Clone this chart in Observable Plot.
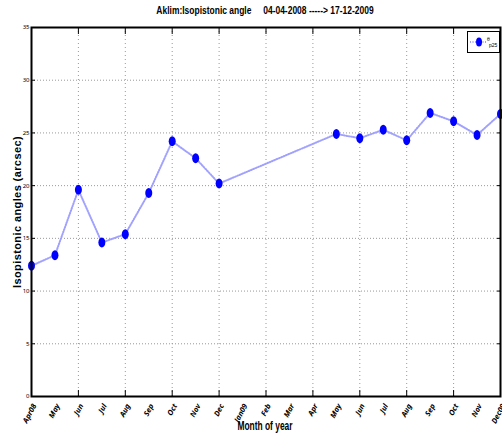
<!DOCTYPE html>
<html>
<head>
<meta charset="utf-8">
<script src="https://cdn.jsdelivr.net/npm/d3@7"></script>
<script src="https://cdn.jsdelivr.net/npm/@observablehq/plot@0.6"></script>
<style>
  html, body { margin: 0; padding: 0; background: #fff; }
  #wrap { position: relative; width: 502px; height: 436px; overflow: hidden; }
  .title { position: absolute; left: 0; width: 530px; top: 4px; text-align: center; transform: scaleX(0.77);
    font-family: "Liberation Sans Narrow", "Liberation Sans", sans-serif; font-weight: bold; font-size: 11px; white-space: pre; }
  .xlab { position: absolute; left: 0; width: 530px; top: 419px; text-align: center; transform: scaleX(0.7);
    font-family: "Liberation Sans Narrow", "Liberation Sans", sans-serif; font-weight: bold; font-size: 12px; }
  .ylab { position: absolute; left: 17px; top: 212px; transform: translate(-50%, -50%) rotate(-90deg);
    font-family: "Liberation Sans", sans-serif; font-weight: bold; font-size: 11px; letter-spacing: 0.4px; white-space: nowrap; }
  .legend { position: absolute; left: 467px; top: 31px; width: 31px; height: 20px; border: 1.5px solid #000; background: #fff; }
</style>
</head>
<body>
<div id="wrap">
  <div class="title">Aklim:Isopistonic angle     04-04-2008 -----> 17-12-2009</div>
  <div id="chart"></div>
  <div class="ylab">Isopistonic angles (arcsec)</div>
  <div class="xlab">Month of year</div>
  <div class="legend"><svg width="31" height="20">
    <line x1="2" y1="10" x2="18" y2="10" stroke="#a0a0ff" stroke-width="2" stroke-dasharray="1,1.5"/>
    <ellipse cx="11" cy="10" rx="3" ry="4.5" fill="#0000ff"/>
    <text x="19" y="9" font-size="5" font-family="Liberation Sans, sans-serif">θ</text>
    <text x="21" y="15" font-size="5" font-family="Liberation Sans, sans-serif">p25</text>
  </svg></div>
</div>
<script>
// Month labels (tick labels), Apr 2008 .. Dec 2009
const months = ["Apr08","May","Jun","Jul","Aug","Sep","Oct","Nov","Dec","Jan09","Feb","Mar","Apr","May","Jun","Jul","Aug","Sep","Oct","Nov","Dec09"];
// Month index of each observation and its value (arcsec)
const monthIndex = [0,1,2,3,4,5,6,7,8,13,14,15,16,17,18,19,20];
const angles = [12.4,13.4,19.6,14.6,15.4,19.3,24.2,22.6,20.2,24.9,24.5,25.3,24.3,26.9,26.1,24.8,26.8];
const yTicks = [0,5,10,15,20,25,30,35];
const gridMonths = [2,4,6,8,10,12,14,16,18];

const data = monthIndex.map((m, i) => ({m, v: angles[i]}));

const ellipse = {
  draw(ctx) {
    const rx = 3.5, ry = 5, k = 0.5523;
    ctx.moveTo(rx, 0);
    ctx.bezierCurveTo(rx, k*ry, k*rx, ry, 0, ry);
    ctx.bezierCurveTo(-k*rx, ry, -rx, k*ry, -rx, 0);
    ctx.bezierCurveTo(-rx, -k*ry, -k*rx, -ry, 0, -ry);
    ctx.bezierCurveTo(k*rx, -ry, rx, -k*ry, rx, 0);
    ctx.closePath();
  }
};
const blank = () => "";

const chart = Plot.plot({
  width: 502,
  height: 436,
  marginLeft: 31,
  marginRight: 2,
  marginTop: 27,
  marginBottom: 40,
  x: {domain: [0, 20]},
  y: {domain: [0, 35]},
  style: {background: "#fff"},
  marks: [
    Plot.ruleY(yTicks.slice(1, -1), {stroke: "#999", strokeWidth: 1, strokeDasharray: "1,2"}),
    Plot.ruleX(gridMonths, {stroke: "#999", strokeWidth: 1, strokeDasharray: "1,3"}),
    Plot.line(data, {x: "m", y: "v", stroke: "#a0a0ff", strokeWidth: 2, strokeDasharray: "1,1.5"}),
    Plot.dot(data, {x: "m", y: "v", symbol: ellipse, fill: "#0000ff", stroke: null}),
    Plot.axisY({ticks: yTicks, tickSize: -4, tickPadding: 6, fontSize: 6, tickFormat: d => d, anchor: "left", label: null}),
    Plot.axisY({ticks: yTicks, tickSize: -4, tickFormat: blank, anchor: "right", label: null}),
    Plot.axisX({ticks: gridMonths, tickSize: -6, tickFormat: blank, anchor: "bottom", label: null}),
    Plot.axisX({ticks: gridMonths, tickSize: -6, tickFormat: blank, anchor: "top", label: null}),
    Plot.axisX({ticks: d3.range(months.length), tickSize: 0, tickFormat: i => months[i], anchor: "bottom",
      tickRotate: -62, fontSize: 7.5, fontWeight: "bold", fontStyle: "italic", textAnchor: "end", dx: 3, dy: -3, label: null}),
    Plot.frame({stroke: "#000", strokeWidth: 2})
  ]
});
document.getElementById("chart").appendChild(chart);
</script>
</body>
</html>
